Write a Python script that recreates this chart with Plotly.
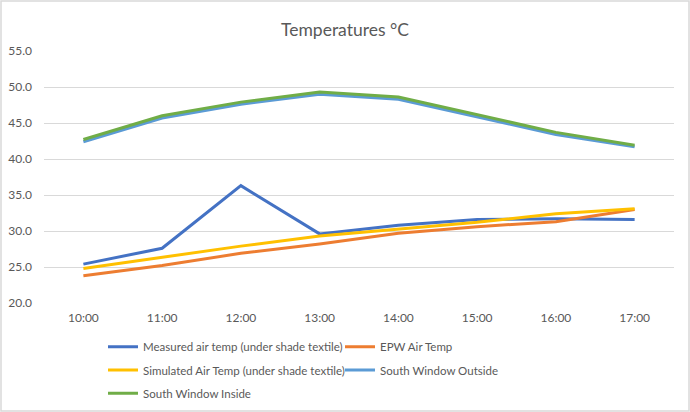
import plotly.graph_objects as go

hours = ["10:00", "11:00", "12:00", "13:00", "14:00", "15:00", "16:00", "17:00"]
measured = [25.4, 27.6, 36.3, 29.6, 30.8, 31.6, 31.7, 31.6]
epw = [23.8, 25.2, 26.9, 28.2, 29.7, 30.6, 31.3, 33.0]
simulated = [24.8, 26.4, 27.9, 29.3, 30.3, 31.2, 32.4, 33.1]
sw_outside = [42.4, 45.7, 47.6, 49.0, 48.3, 45.9, 43.4, 41.7]
sw_inside = [42.7, 46.0, 47.9, 49.3, 48.6, 46.2, 43.7, 41.9]
y_ticks = [20, 25, 30, 35, 40, 45, 50, 55]

series = [
    ("Measured air temp (under shade textile)", measured, "#4472C4", "legend"),
    ("EPW Air Temp", epw, "#ED7D31", "legend"),
    ("Simulated Air Temp (under shade textile)", simulated, "#FFC000", "legend2"),
    ("South Window Outside", sw_outside, "#5B9BD5", "legend2"),
    ("South Window Inside", sw_inside, "#70AD47", "legend3"),
]

FONT = "Lato"
GREY = "#595959"

fig = go.Figure()
for name, vals, color, lg in series:
    fig.add_trace(go.Scatter(
        x=hours, y=vals, name=name, mode="lines",
        line=dict(color=color, width=3),
        legend=lg, hoverinfo="skip",
    ))

W, H = 690, 412
ml, mr, mt, mb = 44, 16, 51, 109
pw, ph = W - ml - mr, H - mt - mb

def px_x(p):
    return (p - ml) / pw

def px_y(p):
    return (H - mb - p) / ph

leg_common = dict(
    orientation="h", xanchor="left", yanchor="middle",
    font=dict(family=FONT, size=11.5, color=GREY),
    bgcolor="rgba(0,0,0,0)", entrywidth=192, entrywidthmode="pixels",
    itemwidth=30, traceorder="normal",
)

fig.update_layout(
    width=W, height=H,
    margin=dict(l=ml, r=mr, t=mt, b=mb, autoexpand=False),
    paper_bgcolor="white", plot_bgcolor="white",
    font=dict(family=FONT, size=12, color=GREY),
    title=dict(text="Temperatures °C", x=0.5, xanchor="center",
               y=1 - 30 / H, yanchor="middle",
               font=dict(family=FONT, size=17.5, color=GREY)),
    xaxis=dict(
        showgrid=False, showline=False, zeroline=False, ticks="",
        tickfont=dict(family=FONT, size=12, color=GREY),
        range=[-0.5, len(hours) - 0.5], fixedrange=True,
        ticklabelstandoff=6, automargin=False,
    ),
    yaxis=dict(
        range=[20, 55], tickvals=y_ticks,
        ticktext=[f"{v:.1f}" for v in y_ticks],
        showgrid=True, gridcolor="#D9D9D9", gridwidth=1,
        zeroline=False, showline=False, ticks="",
        tickfont=dict(family=FONT, size=12, color=GREY),
        ticklabelstandoff=11, fixedrange=True, automargin=False,
    ),
    legend=dict(x=px_x(103), y=px_y(346.7), **leg_common),
    legend2=dict(x=px_x(103), y=px_y(370), **leg_common),
    legend3=dict(x=px_x(103), y=px_y(393.3), **leg_common),
    showlegend=True,
    shapes=[dict(
        type="rect", xref="paper", yref="paper",
        x0=px_x(1), x1=px_x(689), y0=px_y(411), y1=px_y(1),
        line=dict(color="#D9D9D9", width=1.5), layer="below",
    )],
)

fig.write_html("out.html")
